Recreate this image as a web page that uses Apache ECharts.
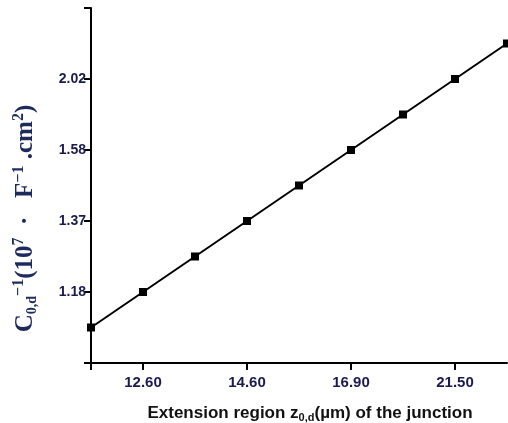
<!DOCTYPE html>
<html>
<head>
<meta charset="utf-8">
<script src="https://cdn.jsdelivr.net/npm/echarts@6/dist/echarts.min.js"></script>
<style>
  html, body { margin: 0; padding: 0; background: #fff; }
  #chart { width: 508px; height: 423px; }
</style>
</head>
<body>
<div id="chart"></div>
<script>
// extension region z (um) at each measured point
const xCategories = ['11.60', '12.60', '13.60', '14.60', '15.75', '16.90', '19.20', '21.50', '23.80'];
const xTickLabels = ['12.60', '14.60', '16.90', '21.50'];
// C^-1 readings at each point
const yValues = [1.085, 1.18, 1.275, 1.37, 1.475, 1.58, 1.80, 2.02, 2.24];
const yTickLabels = [1.18, 1.37, 1.58, 2.02];

// the printed y axis is evenly spaced between unevenly valued ticks,
// so map a reading onto that tick scale (piecewise linear)
function toLevel(v) {
    const t = yTickLabels;
    let i = 0;
    while (i < t.length - 2 && v > t[i + 1]) i++;
    return i + (v - t[i]) / (t[i + 1] - t[i]);
}

const chart = echarts.init(document.getElementById('chart'));
const labelColor = '#1b1b4d';
const titleColor = '#1f2a5c';

const option = {
    animation: false,
    grid: { left: 91, right: 1, top: 8, bottom: 60, containLabel: false, outerBoundsMode: 'none' },
    xAxis: {
        type: 'category',
        data: xCategories,
        boundaryGap: false,
        name: '{b|Extension region z}{s|0,d}{b|(\u00b5m) of the junction}',
        nameLocation: 'middle',
        nameGap: 40,
        nameTextStyle: {
            padding: [0, 0, 0, 22],
            rich: {
                b: { fontFamily: 'Liberation Sans', fontWeight: 'bold', fontSize: 17, color: '#111' },
                s: { fontFamily: 'Liberation Sans', fontWeight: 'bold', fontSize: 11, color: '#111', padding: [9, 0, 0, 0] }
            }
        },
        axisLine: { onZero: false, lineStyle: { color: '#000', width: 2 } },
        axisTick: {
            length: 7,
            interval: (i) => i === 0 || xTickLabels.includes(xCategories[i]),
            lineStyle: { color: '#000', width: 2 }
        },
        axisLabel: {
            interval: (i, v) => xTickLabels.includes(v),
            margin: 12,
            fontFamily: 'Liberation Sans',
            fontWeight: 'bold',
            fontSize: 15,
            color: labelColor
        },
        splitLine: { show: false }
    },
    yAxis: {
        type: 'value',
        min: -1,
        max: 4,
        interval: 1,
        name: '{t|C}{sub|0,d}{sup|\u22121}{t|(10}{sup|7}{t|  \u00b7   F}{sup|\u22121}{t| .cm}{sup|2}{t|)}',
        nameLocation: 'middle',
        nameGap: 50,
        nameTextStyle: {
            padding: [0, 66, 0, 0],
            rich: {
                t: { fontFamily: 'Liberation Serif', fontWeight: 'bold', fontSize: 25, color: titleColor },
                sup: { fontFamily: 'Liberation Serif', fontWeight: 'bold', fontSize: 16, color: titleColor, padding: [0, 0, 14, 0] },
                sub: { fontFamily: 'Liberation Serif', fontWeight: 'bold', fontSize: 14, color: titleColor, padding: [12, 0, 0, 0] }
            }
        },
        axisLine: { show: true, lineStyle: { color: '#000', width: 2 } },
        axisTick: { show: true, length: 7, lineStyle: { color: '#000', width: 2 } },
        axisLabel: {
            margin: 5,
            fontFamily: 'Liberation Sans',
            fontWeight: 'bold',
            fontSize: 14,
            color: labelColor,
            formatter: (v) => (v >= 0 && v < yTickLabels.length) ? yTickLabels[v].toFixed(2) : ''
        },
        splitLine: { show: false }
    },
    series: [{
        type: 'line',
        data: yValues.map(toLevel),
        symbol: 'rect',
        symbolSize: 8,
        itemStyle: { color: '#000' },
        lineStyle: { color: '#000', width: 2 },
        clip: false
    }]
};

chart.setOption(option);
</script>
</body>
</html>
